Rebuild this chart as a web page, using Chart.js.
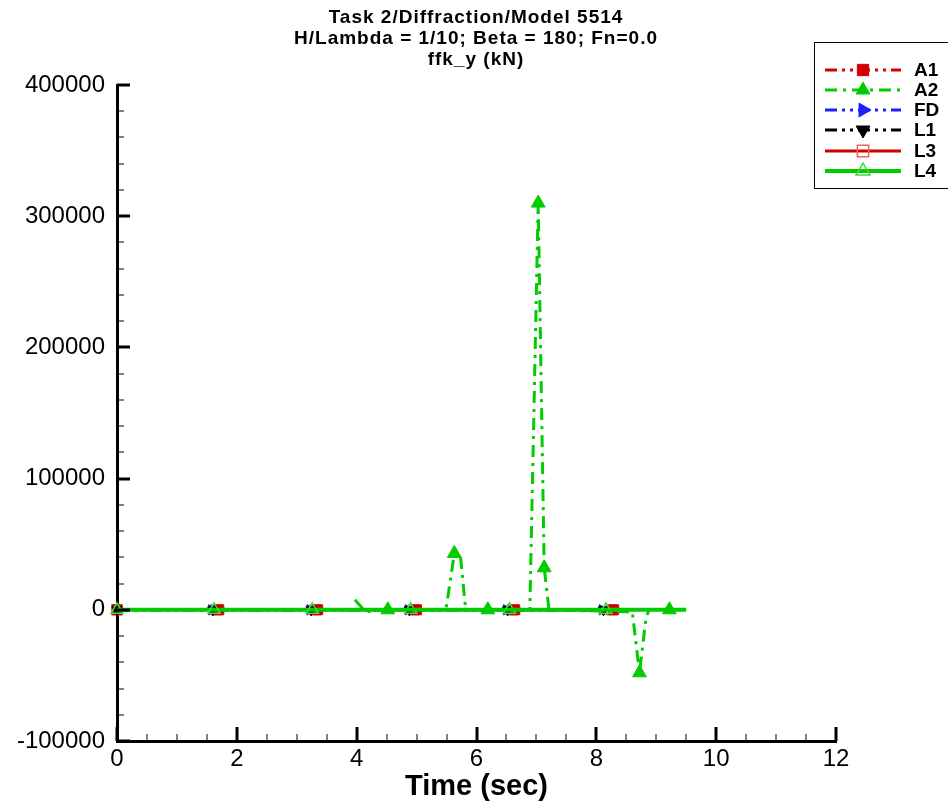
<!DOCTYPE html>
<html>
<head>
<meta charset="utf-8">
<script src="https://cdn.jsdelivr.net/npm/chart.js@4.4.1/dist/chart.umd.min.js"></script>
<style>
  body { margin: 0; background: #fff; }
  canvas { display: block; }
</style>
</head>
<body>
<canvas id="grafica" width="948" height="807"></canvas>
<script>
// Datos (tiempo en s, fuerza en kN)
const tituloLineas = ['Task 2/Diffraction/Model 5514', 'H/Lambda = 1/10; Beta = 180; Fn=0.0', 'ffk_y (kN)'];
const xTicks = [0, 2, 4, 6, 8, 10, 12];
const yTicks = [-100000, 0, 100000, 200000, 300000, 400000];

const a1T = [0, 1.7, 3.35, 5.0, 6.64, 8.29];
const a1Y = [0, 0, 0, 0, 0, 0];

const a2T = [3.97, 4.15, 4.52, 5.49, 5.63, 5.73, 5.82, 6.19, 6.89, 7.03, 7.13, 7.21, 8.6, 8.72, 8.83, 8.88, 9.22];
const a2Y = [7600, -1500, 0, 0, 43000, 42000, 0, 0, 0, 310000, 32000, 0, -1500, -48000, -6000, 0, 0];
const a2Marcas = [4.52, 5.63, 6.19, 7.03, 7.13, 8.72, 9.22];

const fdT = [0, 1.58, 3.22, 4.86, 6.5, 8.1];
const fdY = [0, 0, 0, 0, 0, 0];

const l1T = [0, 1.6, 3.24, 4.88, 6.52, 8.12];
const l1Y = [0, 0, 0, 0, 0, 0];

const l3T = [0, 1.66, 3.31, 4.96, 6.6, 8.25];
const l3Y = [0, 0, 0, 0, 0, 0];

const l4T = [0, 1.62, 3.26, 4.9, 6.55, 8.16, 9.5];
const l4Y = [0, 0, 0, 0, 0, 0, 0];
const l4Marcas = [0, 1.62, 3.26, 4.9, 6.55, 8.16];

const puntos = (ts, ys) => ts.map((t, i) => ({ x: t, y: ys[i] }));

function serie(nombre, ts, ys, marcas, estilo) {
    return Object.assign({
        label: nombre,
        data: puntos(ts, ys),
        showLine: true,
        clip: 12,
        pointRadius: ctx => {
            const p = ctx.raw;
            if (!p) return 0;
            return (!marcas || marcas.includes(p.x)) ? estilo.radio : 0;
        }
    }, estilo);
}

const datasets = [
    serie('A1', a1T, a1Y, null, {
        borderColor: '#d40000', backgroundColor: '#d40000', borderWidth: 3,
        borderDash: [12, 5, 3, 5, 3, 5], pointStyle: 'rect', radio: 7, pointBorderWidth: 1, order: 3
    }),
    serie('A2', a2T, a2Y, a2Marcas, {
        borderColor: '#00cc00', backgroundColor: '#00cc00', borderWidth: 3,
        borderDash: [12, 6, 3, 6], pointStyle: 'triangle', radio: 8, pointBorderWidth: 1, order: 0
    }),
    serie('FD', fdT, fdY, null, {
        borderColor: '#2020ff', backgroundColor: '#2020ff', borderWidth: 3,
        borderDash: [12, 5, 3, 5, 3, 5], pointStyle: 'triangle', rotation: 90, radio: 6, pointBorderWidth: 1, order: 4
    }),
    serie('L1', l1T, l1Y, null, {
        borderColor: '#000000', backgroundColor: '#000000', borderWidth: 3,
        borderDash: [12, 5, 3, 5, 3, 5], pointStyle: 'triangle', rotation: 180, radio: 6, pointBorderWidth: 1, order: 2
    }),
    serie('L3', l3T, l3Y, null, {
        borderColor: '#d40000', backgroundColor: 'rgba(255,255,255,0)', borderWidth: 3,
        pointBorderColor: '#f06060', pointStyle: 'rect', radio: 7, pointBorderWidth: 1.5, order: 5
    }),
    serie('L4', l4T, l4Y, l4Marcas, {
        borderColor: '#00cc00', backgroundColor: 'rgba(255,255,255,0)', borderWidth: 4,
        pointBorderColor: '#40dd40', pointStyle: 'triangle', radio: 7, pointBorderWidth: 1.5, order: 1
    })
];

const fuente = '"Liberation Sans", Arial, sans-serif';

// Título centrado en todo el lienzo
const tituloCentrado = {
    id: 'tituloCentrado',
    afterDraw(chart) {
        const c = chart.ctx;
        c.save();
        c.fillStyle = '#000';
        c.font = 'bold 19px ' + fuente;
        c.letterSpacing = '1px';
        c.textAlign = 'center';
        c.textBaseline = 'middle';
        tituloLineas.forEach((t, i) => c.fillText(t, 476, 18 + i * 21));
        c.restore();
    }
};

// Marcas menores y mayores hacia adentro, como en el original
const marcasEjes = {
    id: 'marcasEjes',
    afterDraw(chart) {
        const c = chart.ctx;
        const xs = chart.scales.x, ys = chart.scales.y;
        const a = chart.chartArea;
        c.save();
        c.strokeStyle = '#000';
        for (let v = xs.min; v <= xs.max + 1e-9; v += 0.5) {
            const px = Math.round(xs.getPixelForValue(v));
            const mayor = Math.abs(v % 2) < 1e-9;
            c.lineWidth = mayor ? 3 : 1;
            c.beginPath();
            c.moveTo(px, a.bottom);
            c.lineTo(px, a.bottom - (mayor ? 14 : 7));
            c.stroke();
        }
        for (let v = ys.min; v <= ys.max + 1e-9; v += 20000) {
            const py = Math.round(ys.getPixelForValue(v));
            const mayor = Math.abs(v % 100000) < 1e-9;
            c.lineWidth = mayor ? 3 : 1;
            c.beginPath();
            c.moveTo(a.left, py);
            c.lineTo(a.left + (mayor ? 13 : 7), py);
            c.stroke();
        }
        c.restore();
    }
};

// Leyenda en caja, dibujada a partir de los datasets
const leyendaCaja = {
    id: 'leyendaCaja',
    afterDraw(chart) {
        const c = chart.ctx;
        c.save();
        c.strokeStyle = '#000';
        c.lineWidth = 1;
        c.strokeRect(814.5, 42.5, 140, 146);
        const filas = [70, 90, 110, 130, 151, 171];
        chart.data.datasets.forEach((ds, i) => {
            const y = filas[i];
            c.strokeStyle = ds.borderColor;
            c.lineWidth = ds.borderWidth;
            c.setLineDash(ds.borderDash || []);
            c.beginPath();
            c.moveTo(825, y);
            c.lineTo(901, y);
            c.stroke();
            c.setLineDash([]);
            c.fillStyle = ds.backgroundColor;
            c.strokeStyle = ds.pointBorderColor || ds.borderColor;
            c.lineWidth = ds.pointBorderWidth;
            Chart.helpers.drawPoint(c, {
                pointStyle: ds.pointStyle,
                rotation: ds.rotation || 0,
                radius: 8,
                borderWidth: ds.pointBorderWidth
            }, 863, y);
            c.fillStyle = '#000';
            c.font = 'bold 19px ' + fuente;
            c.textBaseline = 'middle';
            c.textAlign = 'left';
            c.fillText(ds.label, 914, y + 1);
        });
        c.restore();
    }
};

new Chart(document.getElementById('grafica').getContext('2d'), {
    type: 'scatter',
    data: { datasets: datasets },
    options: {
        responsive: false,
        animation: false,
        layout: { padding: { left: 0, right: 112, top: 85, bottom: 0 } },
        plugins: {
            legend: { display: false },
            tooltip: { enabled: false },
            title: { display: false }
        },
        scales: {
            x: {
                type: 'linear',
                min: 0,
                max: 12,
                afterBuildTicks: s => { s.ticks = xTicks.map(v => ({ value: v })); },
                afterFit: s => { s.height = 66; },
                ticks: { color: '#000', font: { family: fuente, size: 24 }, padding: 4, callback: v => String(v) },
                grid: { display: true, drawOnChartArea: false, drawTicks: false },
                border: { color: '#000', width: 3 },
                title: {
                    display: true,
                    text: 'Time (sec)',
                    color: '#000',
                    font: { family: fuente, size: 29, weight: 'bold' },
                    padding: { top: 0, bottom: 3 }
                }
            },
            y: {
                type: 'linear',
                min: -100000,
                max: 400000,
                afterBuildTicks: s => { s.ticks = yTicks.map(v => ({ value: v })); },
                afterFit: s => { s.width = 117; },
                ticks: { color: '#000', font: { family: fuente, size: 24 }, padding: 12, callback: v => String(v) },
                grid: { display: true, drawOnChartArea: false, drawTicks: false },
                border: { color: '#000', width: 3 }
            }
        }
    },
    plugins: [marcasEjes, leyendaCaja, tituloCentrado]
});
</script>
</body>
</html>
